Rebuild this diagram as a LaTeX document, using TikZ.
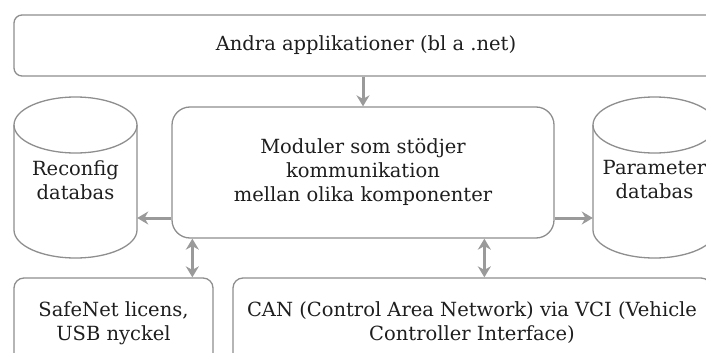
\documentclass[tikz,border=0pt]{standalone}
\usepackage{fontspec}
\setmainfont{DejaVu Serif}
\usetikzlibrary{arrows.meta}
\definecolor{edge}{HTML}{8E8E8E}
\definecolor{arrowc}{HTML}{9A9A9A}
\definecolor{txt}{HTML}{1E1E1E}
\tikzset{
  box/.style={draw=edge, line width=1.3pt, text=txt, align=center, inner sep=0pt,
    font=\rmfamily\fontsize{19.5}{24}\selectfont},
  cyl/.style={draw=edge, line width=1.3pt},
  lbl/.style={text=txt, align=center, inner sep=0pt, font=\rmfamily\fontsize{19.5}{24}\selectfont},
  arr/.style={draw=arrowc, line width=3pt, -{Stealth[length=11pt,width=13pt]}},
  darr/.style={draw=arrowc, line width=3pt, {Stealth[length=11pt,width=13pt]}-{Stealth[length=11pt,width=13pt]}}
}
\begin{document}
\begin{tikzpicture}[x=1pt,y=-1pt]
\useasboundingbox (0,0) rectangle (706,353);
\clip (0,0) rectangle (706,353);
% top box
\node[box, rounded corners=8pt, minimum width=704pt, minimum height=61pt] (top) at (366,45.5) {Andra applikationer (bl a .net)};
% middle box
\node[box, rounded corners=18pt, minimum width=382pt, minimum height=131pt] (mid) at (363,172.5) {Moduler som st\"odjer\\kommunikation\\mellan olika komponenter};
% left cylinder
\draw[cyl] (14,125) -- (14,230) arc[start angle=180,end angle=0,x radius=61.5,y radius=28] -- (137,125);
\draw[cyl] (75.5,125) ellipse[x radius=61.5,y radius=28];
\node[minimum width=123pt, minimum height=105pt, inner sep=0pt] (cylL) at (75.5,177.5) {};
\node[lbl] (cylLt) at (75.5,180) {Reconfig\\databas};
% right cylinder
\draw[cyl] (593,125) -- (593,230) arc[start angle=180,end angle=0,x radius=61.5,y radius=28] -- (716,125);
\draw[cyl] (654.5,125) ellipse[x radius=61.5,y radius=28];
\node[minimum width=123pt, minimum height=105pt, inner sep=0pt] (cylR) at (654.5,177.5) {};
\node[lbl] (cylRt) at (654.5,180) {Parameter\\databas};
% bottom boxes
\node[box, rounded corners=10pt, minimum width=199pt, minimum height=90pt] (safe) at (113.5,323) {SafeNet licens,\\USB nyckel};
\node[box, rounded corners=10pt, minimum width=478pt, minimum height=90pt] (can) at (472,323) {CAN (Control Area Network) via VCI (Vehicle\\Controller Interface)};
% connectors
\draw[arr] (mid.north |- top.south) -- (mid.north);
\draw[arr] ([yshift=-45.5pt]mid.west) -- ([yshift=-45.5pt]mid.west -| cylL.east);
\draw[arr] ([yshift=-45.5pt]mid.east) -- ([yshift=-45.5pt]mid.east -| cylR.west);
\draw[darr] ([xshift=21pt]mid.south west) -- ([xshift=179pt]safe.north west);
\draw[darr] ([xshift=313pt]mid.south west) -- ([xshift=252pt]can.north west);
\end{tikzpicture}
\end{document}
